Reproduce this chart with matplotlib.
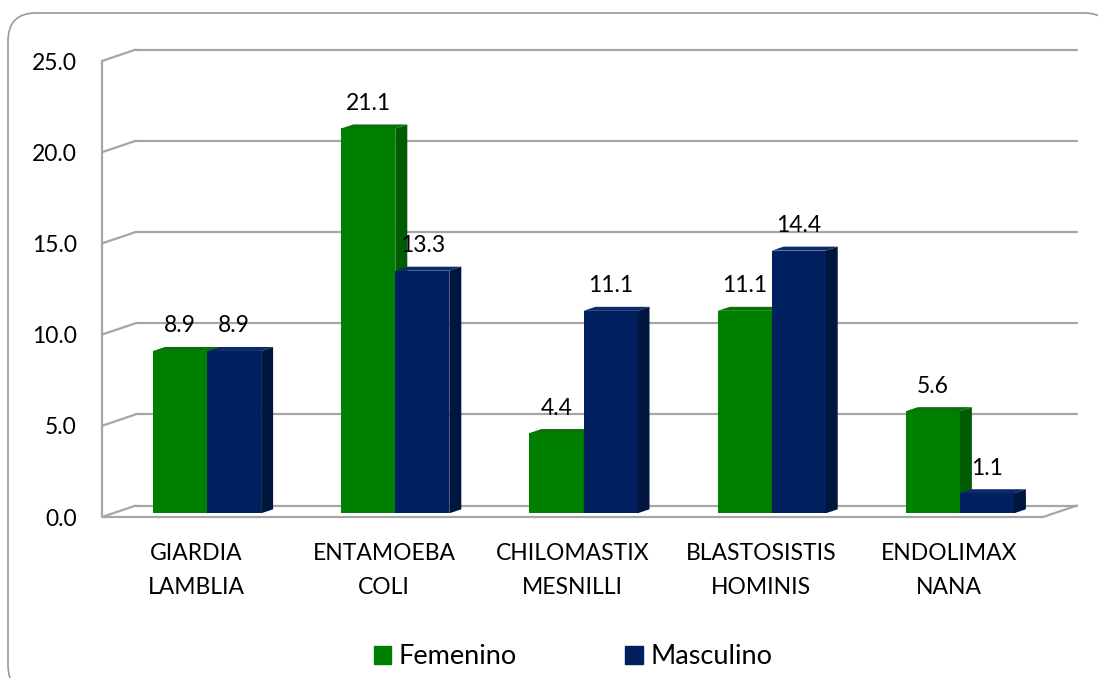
import numpy as np
import matplotlib
matplotlib.use("Agg")
from matplotlib import pyplot as plt
from matplotlib.patches import FancyBboxPatch, Polygon, Patch

plt.rcParams["font.family"] = ["Lato", "DejaVu Sans"]

categories = ["GIARDIA\nLAMBLIA", "ENTAMOEBA\nCOLI", "CHILOMASTIX\nMESNILLI",
              "BLASTOSISTIS\nHOMINIS", "ENDOLIMAX\nNANA"]
femenino = [8.9, 21.1, 4.4, 11.1, 5.6]
masculino = [8.9, 13.3, 11.1, 14.4, 1.1]
yticks = [0, 5, 10, 15, 20, 25]

W, H = 1098, 678
fig = plt.figure(figsize=(W / 100, H / 100), dpi=100)

# rounded outer frame, drawn in pixel space
bg = fig.add_axes([0, 0, 1, 1])
bg.set_xlim(0, W)
bg.set_ylim(H, 0)
bg.axis("off")
bg.add_patch(FancyBboxPatch((8, 13), 1104, 680, boxstyle="round,pad=0,rounding_size=28",
                            fc="white", ec="#9a9a9a", lw=1.2))

# front plane of the 3d box
left, right, top, bottom = 102, 1043, 61, 517
ax = fig.add_axes([left / W, 1 - bottom / H, (right - left) / W, (bottom - top) / H])
ax.set_xlim(-0.5, 4.5)
ax.set_ylim(0, 25)
ax.patch.set_alpha(0)
for s in ax.spines.values():
    s.set_visible(False)

ux = 5 / (right - left)     # data units per pixel
uy = 25 / (bottom - top)

# depth offsets (pixels -> data units)
wall_dx, wall_dy = 34 * ux, 11.5 * uy
front_dx, front_dy = 11 * ux, 3.7 * uy
bar_dx, bar_dy = 12 * ux, 4 * uy

grid_kw = dict(color="#a6a6a6", lw=1.6, clip_on=False, zorder=1, solid_capstyle="round")
for v in yticks:
    ax.plot([-0.5 + wall_dx, 4.5 + wall_dx], [v + wall_dy, v + wall_dy], **grid_kw)
    ax.plot([-0.5, -0.5 + wall_dx], [v, v + wall_dy], **grid_kw)
ax.plot([-0.5, -0.5], [0, 25], **grid_kw)
ax.plot([-0.5, 4.5], [0, 0], **grid_kw)
ax.plot([4.5, 4.5 + wall_dx], [0, wall_dy], **grid_kw)

w = 0.287
x = np.arange(len(categories))
series = [
    (femenino, x - w / 2, ("#008000", "#005c00", "#0a700a")),
    (masculino, x + w / 2, ("#002060", "#00163f", "#0c2a68")),
]

for vals, xs, (c_front, c_side, c_top) in series:
    bars = ax.bar(xs + front_dx, vals, width=w, bottom=front_dy, color=c_front,
                  zorder=3, clip_on=False)
    for rect, v in zip(bars, vals):
        xl = rect.get_x()
        xr = xl + rect.get_width()
        y0 = rect.get_y()
        y1 = y0 + rect.get_height()
        ax.add_patch(Polygon([(xr, y0), (xr + bar_dx, y0 + bar_dy),
                              (xr + bar_dx, y1 + bar_dy), (xr, y1)],
                             closed=True, fc=c_side, ec="none", zorder=3, clip_on=False))
        ax.add_patch(Polygon([(xl, y1), (xr, y1), (xr + bar_dx, y1 + bar_dy),
                              (xl + bar_dx, y1 + bar_dy)],
                             closed=True, fc=c_top, ec="none", zorder=3, clip_on=False))
        ax.annotate(f"{v:.1f}", (xl + w / 2, y1), xytext=(0, 18), textcoords="offset points",
                    ha="center", va="center", fontsize=16.5, zorder=5)

ax.set_yticks(yticks)
ax.set_yticklabels([f"{v:.1f}" for v in yticks], fontsize=16.5)
ax.set_xticks(x)
ax.set_xticklabels(categories, fontsize=16.5, linespacing=1.75)
ax.tick_params(axis="y", length=0, pad=18)
ax.tick_params(axis="x", length=0, pad=19)

handles = [Patch(color="#008000", label="Femenino"), Patch(color="#002060", label="Masculino")]
fig.legend(handles=handles, loc="center", bbox_to_anchor=(0.522, 0.031), ncol=2,
           frameon=False, fontsize=19.5, handlelength=0.63, handleheight=0.63,
           handletextpad=0.3, columnspacing=4.0)

fig.savefig("out.png", dpi=100)
